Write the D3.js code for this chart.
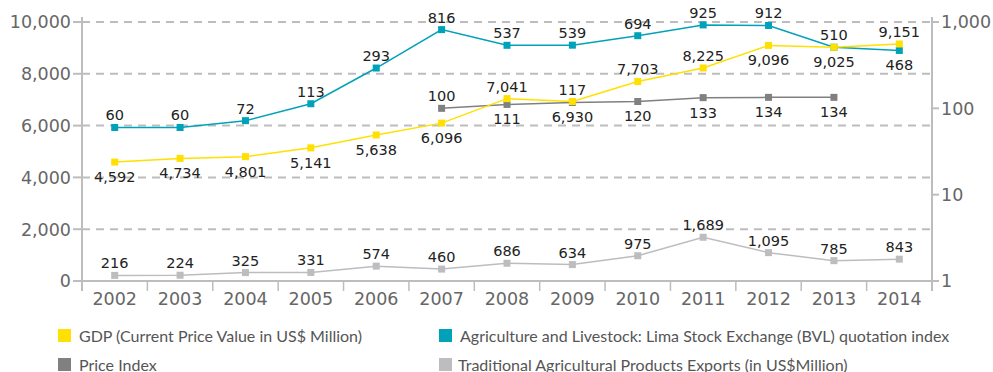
<!DOCTYPE html>
<html><head><meta charset="utf-8">
<script src="https://cdn.jsdelivr.net/npm/d3@7"></script>
<style>body{margin:0;background:#fff}svg{display:block}</style>
</head><body><svg id="c" width="993" height="372"></svg>
<script>
const years = ["2002","2003","2004","2005","2006","2007","2008","2009","2010","2011","2012","2013","2014"];
const gdp = [4592,4734,4801,5141,5638,6096,7041,6930,7703,8225,9096,9025,9151];
const bvl = [60,60,72,113,293,816,537,539,694,925,912,510,468];
const priceIndex = [null,null,null,null,null,100,111,117,120,133,134,134,null];
const exportsTrad = [216,224,325,331,574,460,686,634,975,1689,1095,785,843];
const gdpLabelPos = ["b","b","b","b","b","b","a","b","a","a","b","b","a"];
const bvlLabelPos = ["a","a","a","a","a","a","a","a","a","a","a","a","b"];
const priceLabelPos = ["a","a","a","a","a","a","b","a","b","b","b","b","a"];
const exportsLabelPos = ["a","a","a","a","a","a","a","a","a","a","a","a","a"];
const leftTicks = [0,2000,4000,6000,8000,10000];
const rightTicks = [1,10,100,1000];
const legendItems = ["GDP (Current Price Value in US$ Million)","Agriculture and Livestock: Lima Stock Exchange (BVL) quotation index","Price Index","Traditional Agricultural Products Exports (in US$Million)"];

const svg = d3.select("#c");
const L = 82, R = 932, T = 22, B = 281;
const x = d3.scaleBand().domain(years).range([L, R]).padding(0);
const yL = d3.scaleLinear().domain([0,10000]).range([B, T]);
const yR = d3.scaleLog().domain([1,1000]).range([B, T]);
const fmt = d3.format(",");
const axisCol = "#bdbdbd";
const tickFont = "'DejaVu Sans', Verdana, sans-serif";

// gridlines
svg.append("g").selectAll("line").data(leftTicks.filter(d=>d>0)).join("line")
  .attr("x1", L).attr("x2", R).attr("y1", d=>yL(d)).attr("y2", d=>yL(d))
  .attr("stroke", axisCol).attr("stroke-width", 2).attr("stroke-dasharray", "8,6");

// axes lines
svg.append("line").attr("x1", L).attr("x2", R).attr("y1", B).attr("y2", B).attr("stroke", axisCol).attr("stroke-width", 2);
svg.append("line").attr("x1", L).attr("x2", L).attr("y1", 17).attr("y2", 291).attr("stroke", axisCol).attr("stroke-width", 2);
svg.append("line").attr("x1", R).attr("x2", R).attr("y1", 17).attr("y2", 291).attr("stroke", axisCol).attr("stroke-width", 2);
// bottom ticks at band boundaries
svg.append("g").selectAll("line").data(years.slice(1)).join("line")
  .attr("x1", d=>x(d)).attr("x2", d=>x(d)).attr("y1", B).attr("y2", 291)
  .attr("stroke", axisCol).attr("stroke-width", 1.5);
// left ticks
svg.append("g").selectAll("line").data(leftTicks).join("line")
  .attr("x1", L-9).attr("x2", L).attr("y1", d=>yL(d)).attr("y2", d=>yL(d))
  .attr("stroke", axisCol).attr("stroke-width", 2);
svg.append("g").selectAll("text").data(leftTicks).join("text")
  .attr("x", L-11).attr("y", d=>yL(d)).attr("dy", "0.36em").attr("text-anchor","end")
  .attr("font-family", tickFont).attr("font-size", 17.5).attr("fill", "#666").text(d=>fmt(d));
// right ticks
svg.append("g").selectAll("line").data(rightTicks).join("line")
  .attr("x1", R).attr("x2", R+7).attr("y1", d=>yR(d)).attr("y2", d=>yR(d))
  .attr("stroke", axisCol).attr("stroke-width", 2);
svg.append("g").selectAll("text").data(rightTicks).join("text")
  .attr("x", R+9).attr("y", d=>yR(d)).attr("dy", "0.36em").attr("text-anchor","start")
  .attr("font-family", tickFont).attr("font-size", 17.5).attr("fill", "#666").text(d=>fmt(d));
// year labels
svg.append("g").selectAll("text").data(years).join("text")
  .attr("x", d=>x(d)+x.bandwidth()/2).attr("y", 305).attr("text-anchor","middle")
  .attr("font-family", tickFont).attr("font-size", 17.5).attr("fill", "#666").text(d=>d);

function series(vals, yScale, color, pos, width) {
  const pts = vals.map((v,i)=>({v, i})).filter(p=>p.v!=null);
  const cx = p => x(years[p.i]) + x.bandwidth()/2;
  const g = svg.append("g");
  g.append("path").datum(pts)
    .attr("d", d3.line().x(cx).y(p=>yScale(p.v)))
    .attr("fill","none").attr("stroke", color).attr("stroke-width", width);
  g.selectAll("rect").data(pts).join("rect")
    .attr("x", p=>cx(p)-3.5).attr("y", p=>yScale(p.v)-3.5).attr("width",7).attr("height",7)
    .attr("fill", color);
  return {pts, cx, yScale, pos};
}
function labels(s) {
  svg.append("g").selectAll("text").data(s.pts).join("text")
    .attr("x", p=>s.cx(p)).attr("y", p=>s.yScale(p.v) + (s.pos[p.i]==="a" ? -7 : 20))
    .attr("text-anchor","middle").attr("font-family", tickFont).attr("font-size", 14.5)
    .attr("fill", "#222").text(p=>fmt(p.v));
}
const sE = series(exportsTrad, yL, "#bdbdc0", exportsLabelPos, 1.5);
const sP = series(priceIndex, yR, "#808080", priceLabelPos, 1.5);
const sB = series(bvl, yR, "#00a2b9", bvlLabelPos, 1.5);
const sG = series(gdp, yL, "#ffe000", gdpLabelPos, 1.5);
[sE, sP, sB, sG].forEach(labels);

// legend
const legColors = ["#ffe000","#00a2b9","#808080","#bdbdc0"];
const legPos = [[58,329],[439,329],[58,358],[439,358]];
const lg = svg.append("g").selectAll("g").data(legendItems).join("g")
  .attr("transform", (d,i)=>`translate(${legPos[i][0]},${legPos[i][1]})`);
lg.append("rect").attr("width",13).attr("height",13).attr("fill",(d,i)=>legColors[i]);
lg.append("text").attr("x", (d,i)=> i===3 ? 19 : 21).attr("y", 12.5).attr("font-family","Lato, sans-serif")
  .attr("font-size", 16).attr("fill","#555").text(d=>d);
</script></body></html>
